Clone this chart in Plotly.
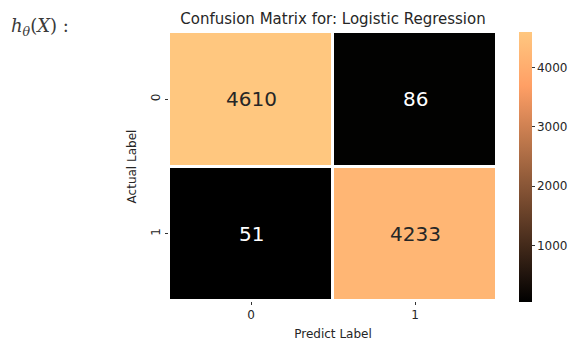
import plotly.graph_objects as go

labels = ["0", "1"]
matrix = [[4610, 86], [51, 4233]]
title = "Confusion Matrix for: Logistic Regression"

vmin = min(min(r) for r in matrix)
vmax = max(max(r) for r in matrix)

# matplotlib "copper" colormap
stops = [i / 20 for i in range(21)]
def copper(t):
    r = min(1.0, 1.25 * t)
    g = 0.7812 * t
    b = 0.4975 * t
    return f"rgb({round(r*255)},{round(g*255)},{round(b*255)})"
colorscale = [[s, copper(s)] for s in stops]

PW = 588 - 169 - 91  # plot width in px

fig = go.Figure()
fig.add_trace(go.Heatmap(
    z=matrix, x=[0, 1], y=[0, 1],
    colorscale=colorscale, zmin=vmin, zmax=vmax,
    xgap=3, ygap=3, hoverinfo="skip",
    colorbar=dict(
        x=(519 - 169) / PW, xanchor="left", y=0.5, yanchor="middle",
        xpad=0, ypad=0,
        thickness=13, len=270, lenmode="pixels",
        outlinewidth=0, ticks="outside", ticklen=3, tickcolor="#333",
        tickvals=[1000, 2000, 3000, 4000],
        tickfont=dict(family="DejaVu Sans", size=12, color="#262626"),
    ),
))

for i, row in enumerate(matrix):
    for j, v in enumerate(row):
        t = (v - vmin) / (vmax - vmin)
        fig.add_annotation(
            x=j, y=i, text=str(v), showarrow=False,
            font=dict(family="DejaVu Sans", size=20,
                      color="#262626" if t > 0.5 else "white"),
        )

fig.add_annotation(
    xref="paper", yref="paper", x=(9 - 169) / PW, y=1 + (32 - 27) / (358 - 32 - 57),
    xanchor="left", yanchor="middle",
    text="<i>h</i><sub><i>θ</i></sub>(<i>X</i>) :", showarrow=False,
    font=dict(family="DejaVu Serif", size=18, color="#3a3a3a"),
)

fig.update_layout(
    width=588, height=358,
    margin=dict(l=169, r=91, t=32, b=57, autoexpand=False),
    paper_bgcolor="white", plot_bgcolor="white",
    title=dict(text=title, x=(169 + PW / 2) / 588, xanchor="center",
               y=1 - 19 / 358, yanchor="middle",
               font=dict(family="DejaVu Sans", size=15, color="#262626")),
    xaxis=dict(
        tickvals=[0, 1], ticktext=labels, range=[-0.5, 1.5],
        showgrid=False, zeroline=False, ticks="outside", ticklen=3,
        tickcolor="#333", showline=False,
        tickfont=dict(family="DejaVu Sans", size=12, color="#262626"),
        title=dict(text="Predict Label", standoff=8,
                   font=dict(family="DejaVu Sans", size=12, color="#262626")),
    ),
    yaxis=dict(
        tickvals=[0, 1], ticktext=labels, range=[1.5, -0.5],
        showgrid=False, zeroline=False, ticks="outside", ticklen=3,
        tickcolor="#333", tickangle=-90, showline=False,
        tickfont=dict(family="DejaVu Sans", size=12, color="#262626"),
        title=dict(text="Actual Label", standoff=10,
                   font=dict(family="DejaVu Sans", size=12, color="#262626")),
    ),
)

fig.write_html("out.html")
